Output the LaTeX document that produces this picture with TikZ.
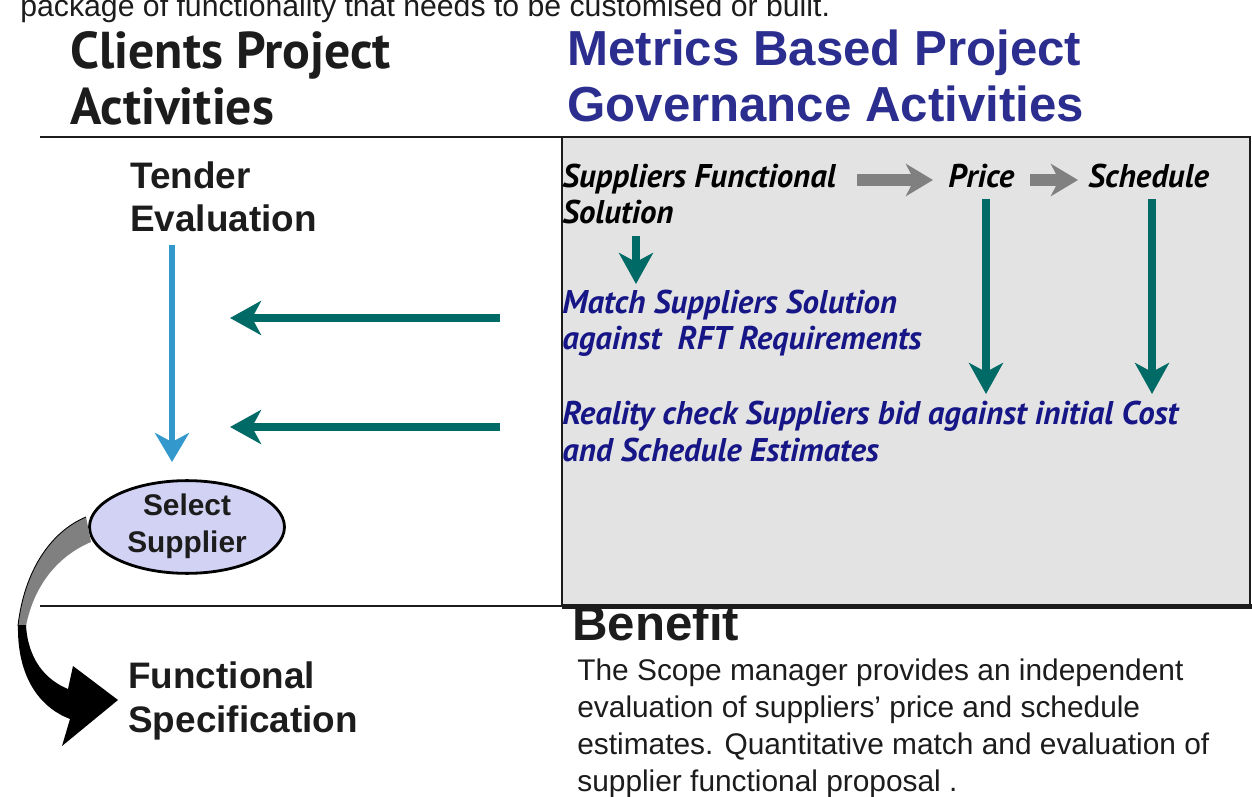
\documentclass[tikz,border=0pt]{standalone}
\usepackage{fontspec}
\setmainfont{Liberation Sans}
\newfontfamily\ptsans{PT Sans}
\usetikzlibrary{arrows.meta, positioning, shapes.geometric}
\definecolor{tealc}{RGB}{0,106,102}
\definecolor{navyt}{RGB}{22,22,135}
\definecolor{headblue}{RGB}{43,46,142}
\definecolor{arrgray}{RGB}{128,128,128}
\definecolor{tenderblue}{RGB}{51,153,204}
\definecolor{boxgray}{RGB}{227,227,227}
\definecolor{lavender}{RGB}{210,210,245}
\definecolor{inkc}{RGB}{28,28,28}

\begin{document}
\begin{tikzpicture}[x=0.02cm, y=-0.02cm,
    hd/.style={anchor=base west, inner sep=0pt, align=left, text=inkc,
               font=\ptsans\fontsize{29.5}{32.4}\selectfont\bfseries},
    gov/.style={anchor=base west, inner sep=0pt, align=left, text=headblue,
                font=\fontsize{28}{32.4}\selectfont\bfseries},
    act/.style={anchor=base west, inner sep=0pt, align=left, text=inkc,
                font=\fontsize{21}{24.5}\selectfont\bfseries},
    itk/.style={anchor=base west, inner sep=0pt, align=left, text=black,
                font=\ptsans\fontsize{18.7}{21}\selectfont\bfseries\itshape},
    itn/.style={itk, text=navyt},
    body/.style={anchor=base west, inner sep=0pt, align=left, text=inkc,
                 font=\fontsize{17}{21}\selectfont},
    tarr/.style={-{Stealth[length=6.2mm, width=6.8mm, inset=1.8mm]},
                 line width=5.1pt, tealc},
    garr/.style={-{Stealth[length=5.4mm, width=6.4mm, inset=1.6mm]},
                 line width=6.6pt, arrgray},
    barr/.style={-{Stealth[length=5.8mm, width=6.8mm, inset=1.8mm]},
                 line width=3.4pt, tenderblue},
  ]
    \useasboundingbox (0,0) rectangle (1252,797);

    % cut-off line of the page above
    \node[body, font=\fontsize{17.2}{21}\selectfont] (cut) at (20,17)
      {package of functionality that needs to be customised or built.};

    % Headings (base = last line)
    \node[hd]  (client) at (70,125)  {Clients Project\\Activities};
    \node[gov] (govern) at (567,122) {Metrics Based Project\\Governance Activities};

    % Frame
    \draw[line width=1.2pt, inkc] (40,137) -- (562,137);
    \draw[line width=1.2pt, inkc] (40,606) -- (562,606);
    \draw[line width=1.2pt, inkc, fill=boxgray] (562,137) rectangle (1250,606);
    \draw[line width=2.6pt, inkc] (562,606.5) -- (1252,606.5);

    % Client side
    \node[act] (tender) at (130,232) {Tender\\Evaluation};
    \node[draw=black, line width=1.6pt, fill=lavender, ellipse,
          inner sep=0pt, align=center, text=inkc, text depth=4pt,
          font=\fontsize{17}{21}\selectfont\bfseries,
          minimum width=3.9cm, minimum height=1.8cm] (select) at (187,527)
      {Select\\Supplier};
    \node[act] (funcspec) at (128,732) {Functional\\Specification};

    % Governance side
    \node[itk] (solution) at (562,224) {Suppliers Functional\\Solution};
    \node[itk] (price)    at (948,188) {Price};
    \node[itk] (sched)    at (1088,188) {Schedule};
    \node[itn] (match)    at (562,350) {Match Suppliers Solution\\against\ \ RFT Requirements};
    \node[itn] (reality)  at (562,461) {Reality check Suppliers bid against initial Cost\\and Schedule Estimates};

    \node[anchor=base west, inner sep=0pt, text=inkc,
          font=\fontsize{28}{32}\selectfont\bfseries] (benefit) at (572,640) {Benefit};
    \node[body] (bentext) at (577,791)
      {The Scope manager provides an independent\\
       evaluation of suppliers' price and schedule\\
       estimates. Quantitative match and evaluation of\\
       supplier functional proposal .};

    % Connector end points
    \coordinate (g1s) at (857,180);  \coordinate (g1e) at (933,180);
    \coordinate (g2s) at (1030,180); \coordinate (g2e) at (1078,180);
    \coordinate (sols) at (636,236); \coordinate (sole) at (636,284);
    \coordinate (prs) at (986,199);  \coordinate (pre) at (986,394);
    \coordinate (scs) at (1152,199); \coordinate (sce) at (1152,394);
    \coordinate (m1s) at (500,318);  \coordinate (m1e) at (230,318);
    \coordinate (m2s) at (500,427);  \coordinate (m2e) at (230,427);
    \coordinate (tds) at (172,245);  \coordinate (tde) at (172,462);

    % Connections
    \draw[garr] (g1s) -- (g1e);
    \draw[garr] (g2s) -- (g2e);
    \draw[tarr] (sols) -- (sole);
    \draw[tarr] (prs) -- (pre);
    \draw[tarr] (scs) -- (sce);
    \draw[tarr] (m1s) -- (m1e);
    \draw[tarr] (m2s) -- (m2e);
    \draw[barr] (tds) -- (tde);

    % Ribbon arrow from Select Supplier down to Functional Specification
    \fill[arrgray] (86,517) .. controls (50,532) and (24,572) .. (18,626)
      -- (26,626) .. controls (34,585) and (58,556) .. (91,542) -- cycle;
    \draw[black, line width=0.5pt] (86,517) .. controls (50,532) and (24,572) .. (18,626);
    \fill[black] (18,625) .. controls (17,672) and (36,706) .. (70,719)
      -- (62,746) -- (118,700) -- (73,666) -- (68,689)
      .. controls (46,680) and (28,660) .. (26,625) -- cycle;
  \end{tikzpicture}
\end{document}
